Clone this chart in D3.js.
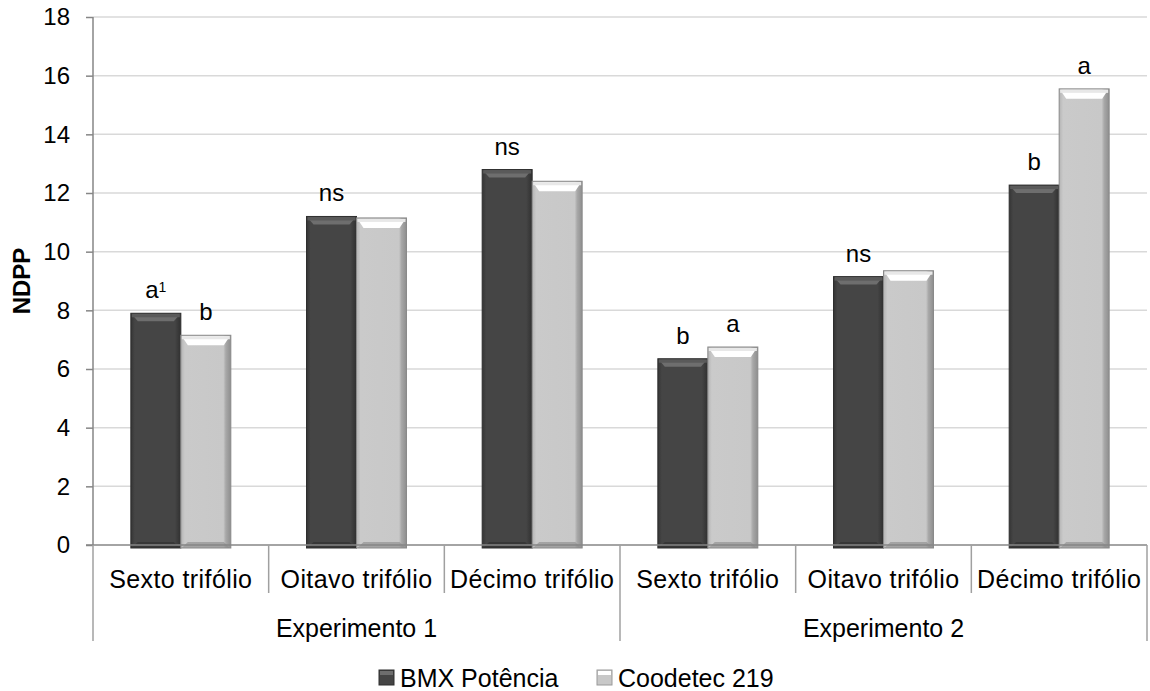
<!DOCTYPE html>
<html>
<head>
<meta charset="utf-8">
<script src="https://cdn.jsdelivr.net/npm/d3@7"></script>
<style>
  body { margin: 0; background: #fff; }
  svg text { font-family: "Liberation Sans", Arial, sans-serif; fill: #000; }
</style>
</head>
<body>
<svg width="1150" height="691"></svg>
<script>
var categories = [ 'Sexto trifólio', 'Oitavo trifólio', 'Décimo trifólio',
                   'Sexto trifólio', 'Oitavo trifólio', 'Décimo trifólio' ],
    groups = [ 'Experimento 1', 'Experimento 2' ],
    series = [ 'BMX Potência', 'Coodetec 219' ],
    bmxValues = [ 7.9, 11.2, 12.8, 6.35, 9.15, 12.27 ],
    coodetecValues = [ 7.15, 11.15, 12.4, 6.75, 9.35, 15.55 ],
    bmxLetters = [ 'a', 'ns', 'ns', 'b', 'ns', 'b' ],
    coodetecLetters = [ 'b', '', '', 'a', '', 'a' ],
    yTicks = [ 0, 2, 4, 6, 8, 10, 12, 14, 16, 18 ];

var svg = d3.select( 'svg' ),
    plotLeft = 93, plotRight = 1147, plotTop = 17, plotBottom = 545,
    fontSize = '24px';

var x0 = d3.scaleBand()
        .domain( d3.range( categories.length ) )
        .range( [ plotLeft, plotRight ] )
        .paddingInner( 0 )
        .paddingOuter( 0 ),
    x1 = d3.scaleBand()
        .domain( series )
        .range( [ 0, x0.bandwidth() ] )
        .paddingInner( 0 )
        .paddingOuter( 0.757 ),
    y = d3.scaleLinear()
        .domain( [ 0, 18 ] )
        .range( [ plotBottom, plotTop ] );

// gridlines
svg.append( 'g' )
    .selectAll( 'line' )
    .data( yTicks.filter( function( d ) { return d > 0; } ) )
    .join( 'line' )
    .attr( 'x1', plotLeft ).attr( 'x2', plotRight )
    .attr( 'y1', function( d ) { return y( d ); } )
    .attr( 'y2', function( d ) { return y( d ); } )
    .attr( 'stroke', '#d9d9d9' )
    .attr( 'stroke-width', 1.5 );

// y axis
var yAxis = svg.append( 'g' )
    .attr( 'transform', 'translate(' + plotLeft + ',0)' )
    .call( d3.axisLeft( y ).tickValues( yTicks ).tickSize( 7 ).tickPadding( 16 ) );
yAxis.select( '.domain' ).attr( 'stroke', '#868686' ).attr( 'stroke-width', 1.5 )
    .attr( 'd', 'M0,' + plotTop + 'V' + plotBottom );
yAxis.selectAll( '.tick line' ).attr( 'stroke', '#868686' ).attr( 'stroke-width', 1.5 );
yAxis.selectAll( '.tick text' )
    .style( 'font-family', '"Liberation Sans", Arial, sans-serif' )
    .style( 'font-size', fontSize )
    .attr( 'fill', '#000' );

svg.append( 'text' )
    .attr( 'transform', 'translate(30,' + ( ( plotTop + plotBottom ) / 2 ) + ') rotate(-90)' )
    .attr( 'text-anchor', 'middle' )
    .style( 'font-size', fontSize )
    .style( 'font-weight', 'bold' )
    .text( 'NDPP' );

// bar styling
var defs = svg.append( 'defs' );
function hGrad( id, stops ) {
    var g = defs.append( 'linearGradient' ).attr( 'id', id )
        .attr( 'x1', '0' ).attr( 'x2', '1' ).attr( 'y1', '0' ).attr( 'y2', '0' );
    stops.forEach( function( s ) {
        g.append( 'stop' ).attr( 'offset', s[ 0 ] ).attr( 'stop-color', s[ 1 ] );
    } );
}
hGrad( 'darkBody', [ [ 0, '#353535' ], [ 0.08, '#454545' ], [ 0.88, '#454545' ], [ 1, '#303030' ] ] );
hGrad( 'lightBody', [ [ 0, '#b4b4b4' ], [ 0.08, '#cacaca' ], [ 0.85, '#c8c8c8' ], [ 0.9, '#a8a8a8' ], [ 1, '#8e8e8e' ] ] );

var styles = [
    { body: 'url(#darkBody)', bevel: '#6e6e6e', bevel2: '#5a5a5a', edge: '#2e2e2e' },
    { body: 'url(#lightBody)', bevel: '#ffffff', bevel2: '#e8e8e8', edge: '#8a8a8a' }
];

var valuesBySeries = [ bmxValues, coodetecValues ];
var lettersBySeries = [ bmxLetters, coodetecLetters ];

series.forEach( function( s, si ) {
    var g = svg.append( 'g' ).attr( 'class', 'series-' + si ),
        st = styles[ si ],
        w = x1.bandwidth(),
        bevelH = si === 0 ? 8 : 10;

    valuesBySeries[ si ].forEach( function( v, i ) {
        var bx = x0( i ) + x1( s ),
            by = y( v ),
            bh = y( 0 ) - by + 3;

        g.append( 'rect' )
            .attr( 'x', bx ).attr( 'y', by )
            .attr( 'width', w ).attr( 'height', bh )
            .attr( 'fill', st.body )
            .attr( 'stroke', st.edge ).attr( 'stroke-width', 1 );

        // top bevel
        g.append( 'path' )
            .attr( 'd', 'M' + ( bx + 1 ) + ',' + ( by + 1 ) + 'H' + ( bx + w - 1 ) +
                'L' + ( bx + w - 7 ) + ',' + ( by + bevelH ) + 'H' + ( bx + 7 ) + 'Z' )
            .attr( 'fill', st.bevel );
        g.append( 'rect' )
            .attr( 'x', bx + 1 ).attr( 'y', by + 1 )
            .attr( 'width', w - 2 ).attr( 'height', 3 )
            .attr( 'fill', st.bevel2 );

        // bottom bevel
        g.append( 'path' )
            .attr( 'd', 'M' + ( bx + 1 ) + ',' + ( by + bh ) + 'H' + ( bx + w - 1 ) +
                'L' + ( bx + w - 7 ) + ',' + ( by + bh - 6 ) + 'H' + ( bx + 7 ) + 'Z' )
            .attr( 'fill', st.edge ).attr( 'opacity', 0.6 );

        // letter
        var letter = lettersBySeries[ si ][ i ];
        if ( letter ) {
            var t = g.append( 'text' )
                .attr( 'x', bx + w / 2 )
                .attr( 'y', by - 15 )
                .attr( 'text-anchor', 'middle' )
                .style( 'font-size', fontSize )
                .text( letter );
            if ( si === 0 && i === 0 ) {
                t.append( 'tspan' )
                    .attr( 'dy', -6 )
                    .style( 'font-size', '14px' )
                    .text( '1' );
            }
        }
    } );
} );

// x axis
svg.append( 'line' )
    .attr( 'x1', plotLeft - 7 ).attr( 'x2', plotRight )
    .attr( 'y1', plotBottom ).attr( 'y2', plotBottom )
    .attr( 'stroke', '#868686' ).attr( 'stroke-width', 1.5 );

var bounds = d3.range( categories.length + 1 ).map( function( i ) {
    return i < categories.length ? x0( i ) : plotRight;
} );
svg.append( 'g' )
    .selectAll( 'line' )
    .data( bounds )
    .join( 'line' )
    .attr( 'x1', function( d ) { return d; } )
    .attr( 'x2', function( d ) { return d; } )
    .attr( 'y1', plotBottom )
    .attr( 'y2', function( d, i ) { return i % 3 === 0 ? 641 : 593; } )
    .attr( 'stroke', '#a0a0a0' )
    .attr( 'stroke-width', 1.5 );

svg.append( 'g' )
    .selectAll( 'text' )
    .data( categories )
    .join( 'text' )
    .attr( 'x', function( d, i ) { return x0( i ) + x0.bandwidth() / 2; } )
    .attr( 'y', 588 )
    .attr( 'text-anchor', 'middle' )
    .style( 'font-size', '25px' )
    .style( 'letter-spacing', '0.4px' )
    .text( function( d ) { return d; } );

svg.append( 'g' )
    .selectAll( 'text' )
    .data( groups )
    .join( 'text' )
    .attr( 'x', function( d, i ) {
        return ( x0( i * 3 ) + ( i === groups.length - 1 ? plotRight : x0( i * 3 + 3 ) ) ) / 2;
    } )
    .attr( 'y', 637 )
    .attr( 'text-anchor', 'middle' )
    .style( 'font-size', '25px' )
    .text( function( d ) { return d; } );

// legend
var legendX = [ 379, 597 ];
series.forEach( function( s, si ) {
    var lg = svg.append( 'g' ).attr( 'transform', 'translate(' + legendX[ si ] + ',670)' );
    lg.append( 'rect' )
        .attr( 'width', 15 ).attr( 'height', 15 )
        .attr( 'fill', si === 0 ? '#454545' : '#c8c8c8' )
        .attr( 'stroke', si === 0 ? '#2e2e2e' : '#9a9a9a' );
    lg.append( 'rect' )
        .attr( 'x', 1 ).attr( 'y', 1 )
        .attr( 'width', 13 ).attr( 'height', 4 )
        .attr( 'fill', si === 0 ? '#6e6e6e' : '#ffffff' );
    lg.append( 'text' )
        .attr( 'x', 21 ).attr( 'y', 17 )
        .style( 'font-size', '25px' )
        .text( s );
} );
</script>
</body>
</html>
